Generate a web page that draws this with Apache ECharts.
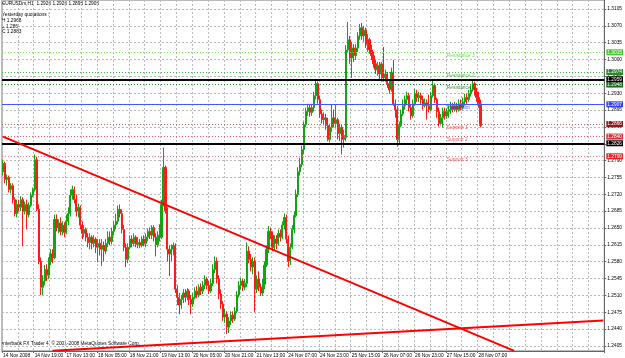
<!DOCTYPE html>
<html><head><meta charset="utf-8">
<script src="https://cdn.jsdelivr.net/npm/echarts@6/dist/echarts.min.js"></script>
<style>html,body{margin:0;padding:0;background:#fff}#c{width:625px;height:358px}</style>
</head><body><div id="c"></div>
<script>
// ---- DATA (EURUSDm, H1) ----
const opens = [
1.2767,1.2784,1.2751,1.2755,1.2730,1.2738,1.2709,1.2680,1.2699,1.2693,
1.2709,1.2685,1.2699,1.2678,1.2697,1.2718,1.2730,1.2792,1.2689,1.2581,
1.2527,1.2540,1.2564,1.2552,1.2581,1.2596,1.2589,1.2668,1.2651,1.2660,
1.2643,1.2656,1.2641,1.2664,1.2680,1.2718,1.2730,1.2709,1.2685,1.2693,
1.2656,1.2639,1.2647,1.2631,1.2620,1.2631,1.2618,1.2627,1.2610,1.2618,
1.2606,1.2614,1.2602,1.2618,1.2631,1.2622,1.2643,1.2656,1.2664,1.2689,
1.2680,1.2647,1.2610,1.2585,1.2610,1.2627,1.2618,1.2631,1.2616,1.2620,
1.2614,1.2627,1.2618,1.2631,1.2643,1.2635,1.2651,1.2631,1.2616,1.2631,
1.2631,1.2699,1.2776,1.2685,1.2606,1.2596,1.2606,1.2614,1.2523,1.2506,
1.2490,1.2502,1.2515,1.2506,1.2519,1.2502,1.2492,1.2506,1.2519,1.2511,
1.2527,1.2519,1.2531,1.2544,1.2531,1.2519,1.2535,1.2564,1.2581,1.2544,
1.2513,1.2492,1.2465,1.2471,1.2444,1.2457,1.2469,1.2461,1.2477,1.2511,
1.2531,1.2540,1.2527,1.2535,1.2602,1.2585,1.2569,1.2581,1.2523,1.2544,
1.2527,1.2515,1.2533,1.2573,1.2606,1.2643,1.2635,1.2610,1.2627,1.2618,
1.2639,
1.2631,1.2656,1.2672,1.2627,1.2581,1.2610,1.2647,1.2676,1.2720,1.2767,
1.2782,1.2813,1.2865,1.2892,1.2900,1.2890,1.2900,1.2925,1.2950,1.2917,
1.2887,1.2875,1.2879,1.2863,1.2834,1.2859,1.2879,1.2867,1.2875,1.2846,
1.2859,1.2834,1.2838,1.3020,1.3041,1.3003,1.3024,1.3008,1.3024,1.3049,
1.3066,1.3049,1.3061,1.3032,1.3041,1.3020,1.3008,1.2991,1.2979,1.2987,
1.2970,1.2991,1.2962,1.2970,1.2950,1.2937,1.2974,1.2908,1.2896,1.2834,
1.2863,1.2887,1.2904,1.2917,1.2925,1.2900,1.2883,1.2908,1.2929,1.2921,
1.2925,1.2917,1.2904,1.2910,1.2904,1.2896,1.2925,1.2946,1.2917,1.2892,
1.2867,1.2879,1.2892,1.2883,1.2892,1.2896,1.2904,1.2896,1.2904,1.2896,
1.2908,1.2900,1.2912,1.2921,1.2917,1.2929,1.2937,1.2950,1.2933,1.2921,1.2908
];
const closes = [
1.2784,1.2751,1.2755,1.2730,1.2738,1.2709,1.2680,1.2699,1.2693,1.2709,
1.2685,1.2699,1.2678,1.2697,1.2718,1.2730,1.2792,1.2689,1.2581,1.2527,
1.2540,1.2564,1.2552,1.2581,1.2596,1.2589,1.2668,1.2651,1.2660,1.2643,
1.2656,1.2641,1.2664,1.2680,1.2718,1.2730,1.2709,1.2685,1.2693,1.2656,
1.2639,1.2647,1.2631,1.2620,1.2631,1.2618,1.2627,1.2610,1.2618,1.2606,
1.2614,1.2602,1.2618,1.2631,1.2622,1.2643,1.2656,1.2664,1.2689,1.2680,
1.2647,1.2610,1.2585,1.2610,1.2627,1.2618,1.2631,1.2616,1.2620,1.2614,
1.2627,1.2618,1.2631,1.2643,1.2635,1.2651,1.2631,1.2616,1.2631,1.2635,
1.2699,1.2776,1.2685,1.2606,1.2596,1.2606,1.2614,1.2523,1.2506,1.2490,
1.2502,1.2515,1.2506,1.2519,1.2502,1.2492,1.2506,1.2519,1.2511,1.2527,
1.2519,1.2531,1.2544,1.2531,1.2519,1.2535,1.2564,1.2581,1.2544,1.2513,
1.2492,1.2465,1.2471,1.2444,1.2457,1.2469,1.2461,1.2477,1.2511,1.2531,
1.2540,1.2527,1.2535,1.2602,1.2585,1.2569,1.2581,1.2523,1.2544,1.2527,
1.2515,1.2533,1.2573,1.2606,1.2643,1.2635,1.2610,1.2627,1.2618,1.2639,
1.2631,
1.2656,1.2672,1.2627,1.2581,1.2610,1.2647,1.2676,1.2720,1.2767,1.2782,
1.2813,1.2865,1.2892,1.2900,1.2890,1.2900,1.2925,1.2950,1.2917,1.2887,
1.2875,1.2879,1.2863,1.2834,1.2859,1.2879,1.2867,1.2875,1.2846,1.2859,
1.2834,1.2842,1.3020,1.3041,1.3003,1.3024,1.3008,1.3024,1.3049,1.3066,
1.3049,1.3061,1.3032,1.3041,1.3020,1.3008,1.2991,1.2979,1.2987,1.2970,
1.2991,1.2962,1.2970,1.2950,1.2937,1.2974,1.2908,1.2896,1.2834,1.2863,
1.2887,1.2904,1.2917,1.2925,1.2900,1.2883,1.2908,1.2929,1.2921,1.2925,
1.2917,1.2904,1.2910,1.2904,1.2896,1.2925,1.2946,1.2917,1.2892,1.2867,
1.2879,1.2892,1.2883,1.2892,1.2896,1.2904,1.2896,1.2904,1.2896,1.2908,
1.2900,1.2912,1.2921,1.2917,1.2929,1.2937,1.2950,1.2933,1.2921,1.2908,1.2863
];
const lows = [
1.2759,1.2743,1.2738,1.2724,1.2722,1.2701,1.2674,1.2672,1.2685,1.2685,
1.2612,1.2678,1.2647,1.2672,1.2693,1.2714,1.2726,1.2685,1.2575,1.2511,
1.2511,1.2531,1.2540,1.2544,1.2573,1.2577,1.2585,1.2643,1.2639,1.2635,
1.2635,1.2631,1.2637,1.2656,1.2674,1.2709,1.2701,1.2674,1.2672,1.2647,
1.2627,1.2631,1.2622,1.2610,1.2606,1.2606,1.2610,1.2598,1.2579,1.2593,
1.2571,1.2581,1.2596,1.2610,1.2614,1.2616,1.2635,1.2647,1.2658,1.2672,
1.2639,1.2602,1.2569,1.2577,1.2606,1.2610,1.2612,1.2610,1.2608,1.2608,
1.2610,1.2612,1.2610,1.2622,1.2627,1.2627,1.2622,1.2591,1.2610,1.2622,
1.2627,1.2695,1.2680,1.2581,1.2550,1.2581,1.2593,1.2515,1.2490,1.2471,
1.2482,1.2494,1.2496,1.2500,1.2490,1.2471,1.2486,1.2502,1.2504,1.2506,
1.2511,1.2513,1.2523,1.2523,1.2513,1.2515,1.2529,1.2556,1.2535,1.2502,
1.2482,1.2457,1.2453,1.2430,1.2432,1.2448,1.2453,1.2457,1.2473,1.2506,
1.2523,1.2519,1.2521,1.2527,1.2577,1.2560,1.2554,1.2475,1.2515,1.2519,
1.2509,1.2509,1.2523,1.2569,1.2598,1.2627,1.2602,1.2602,1.2606,1.2614,
1.2622,
1.2627,1.2647,1.2618,1.2569,1.2573,1.2606,1.2639,1.2672,1.2714,1.2759,
1.2776,1.2803,1.2859,1.2883,1.2881,1.2883,1.2892,1.2917,1.2908,1.2879,
1.2867,1.2863,1.2854,1.2830,1.2828,1.2850,1.2859,1.2859,1.2834,1.2830,
1.2803,1.2817,1.2830,1.3016,1.2991,1.2962,1.2995,1.2999,1.3016,1.3041,
1.3041,1.3037,1.3024,1.3016,1.3012,1.2999,1.2983,1.2970,1.2966,1.2958,
1.2954,1.2954,1.2954,1.2941,1.2929,1.2933,1.2904,1.2879,1.2819,1.2825,
1.2859,1.2883,1.2896,1.2908,1.2892,1.2875,1.2879,1.2904,1.2912,1.2912,
1.2908,1.2896,1.2900,1.2875,1.2890,1.2892,1.2921,1.2910,1.2879,1.2861,
1.2863,1.2859,1.2875,1.2877,1.2879,1.2887,1.2890,1.2892,1.2890,1.2892,
1.2894,1.2896,1.2904,1.2908,1.2912,1.2923,1.2933,1.2925,1.2912,1.2900,1.2859
];
const highs = [
1.2792,1.2788,1.2761,1.2759,1.2743,1.2743,1.2714,1.2709,1.2709,1.2716,
1.2714,1.2705,1.2709,1.2703,1.2724,1.2734,1.2803,1.2798,1.2699,1.2589,
1.2552,1.2573,1.2575,1.2589,1.2606,1.2606,1.2678,1.2678,1.2668,1.2672,
1.2664,1.2662,1.2678,1.2693,1.2730,1.2738,1.2736,1.2720,1.2701,1.2697,
1.2664,1.2656,1.2651,1.2639,1.2639,1.2635,1.2635,1.2631,1.2627,1.2627,
1.2627,1.2622,1.2627,1.2643,1.2643,1.2651,1.2664,1.2680,1.2697,1.2699,
1.2689,1.2656,1.2618,1.2618,1.2635,1.2635,1.2639,1.2635,1.2631,1.2627,
1.2633,1.2635,1.2639,1.2649,1.2651,1.2656,1.2656,1.2639,1.2643,1.2658,
1.2709,1.2817,1.2780,1.2693,1.2614,1.2616,1.2620,1.2618,1.2531,1.2515,
1.2511,1.2523,1.2523,1.2525,1.2523,1.2511,1.2515,1.2527,1.2529,1.2533,
1.2535,1.2540,1.2552,1.2548,1.2540,1.2544,1.2575,1.2591,1.2589,1.2552,
1.2523,1.2498,1.2482,1.2477,1.2465,1.2477,1.2477,1.2486,1.2519,1.2540,
1.2546,1.2544,1.2544,1.2620,1.2612,1.2596,1.2589,1.2589,1.2552,1.2560,
1.2535,1.2544,1.2581,1.2614,1.2654,1.2651,1.2643,1.2635,1.2635,1.2647,
1.2647,
1.2664,1.2680,1.2678,1.2635,1.2618,1.2656,1.2685,1.2730,1.2776,1.2796,
1.2821,1.2871,1.2900,1.2908,1.2906,1.2908,1.2933,1.2958,1.2954,1.2925,
1.2896,1.2890,1.2887,1.2879,1.2867,1.2906,1.2896,1.2906,1.2879,1.2867,
1.2865,1.2854,1.3030,1.3078,1.3049,1.3037,1.3032,1.3032,1.3057,1.3074,
1.3076,1.3070,1.3066,1.3053,1.3045,1.3030,1.3016,1.2999,1.2995,1.2995,
1.2995,1.3026,1.2979,1.2974,1.2958,1.2983,1.2999,1.2917,1.2904,1.2871,
1.2896,1.2917,1.2925,1.2933,1.2931,1.2908,1.2917,1.2939,1.2937,1.2933,
1.2931,1.2925,1.2919,1.2917,1.2927,1.2933,1.2958,1.2950,1.2921,1.2900,
1.2887,1.2900,1.2900,1.2898,1.2904,1.2912,1.2910,1.2912,1.2910,1.2917,
1.2917,1.2921,1.2929,1.2929,1.2937,1.2946,1.2958,1.2954,1.2941,1.2933,1.2917
];
const tickLabels = ['14 Nov 2008','14 Nov 19:00','17 Nov 13:00','18 Nov 05:00','18 Nov 21:00','19 Nov 13:00',
  '20 Nov 05:00','20 Nov 21:00','21 Nov 13:00','24 Nov 07:00','24 Nov 23:00','25 Nov 15:00',
  '26 Nov 07:00','26 Nov 23:00','27 Nov 15:00','28 Nov 07:00'];
const yTicks = [1.2405,1.2440,1.2475,1.2510,1.2545,1.2580,1.2615,1.2650,1.2685,1.2720,1.2755,
  1.2790,1.2825,1.2860,1.2895,1.2930,1.2965,1.3000,1.3035,1.3070,1.3105];
const levelNames = ['Resistance 3','Resistance 2','Resistance 1','Pivot Point','Support 1','Support 2','Support 3'];
const levelValues = [1.3015,1.2974,1.2948,1.2907,1.2866,1.2840,1.2799];
const blackLevels = [1.2959,1.2826];
const trendDown = [[0,1.2840],[258,1.2395]];
const trendUp = [[25,1.2395],[303,1.2458]];
const infoLines = ['EURUSDm,H1  1.2926 1.2926 1.2895 1.2905','Yesterday quotations :','H 1.2968','L 1.286','C 1.2883'];
const footer = 'Interbank FX Trader 4, \u00A9 2001-2008 MetaQuotes Software Corp.';

// ---- categories: hourly bars (Fri after 21:00 and weekends closed) ----
const months = ['Jan','Feb','Mar','Apr','May','Jun','Jul','Aug','Sep','Oct','Nov','Dec'];
const totalSlots = 304;
const categories = [];
let t = Date.UTC(2008,10,14,3);
while (categories.length < totalSlots) {
  const d = new Date(t); const wd = d.getUTCDay(), h = d.getUTCHours();
  const closed = wd === 6 || wd === 0 || (wd === 5 && h >= 22);
  if (!closed) categories.push(d.getUTCDate()+' '+months[d.getUTCMonth()]+' '+String(h).padStart(2,'0')+':00');
  t += 3600000;
}

// ---- styles ----
const FONT = "'Liberation Sans', Arial, sans-serif";
const FS = 4.8;
const levelLine = ['#66ee44','#33bb33','#228822','#4455ff','#c06262','#ee5566','#ff7a85'];
const levelBox = ['#44cc33','#2a8a2a','#1a6b1a','#3344ff','#8b1a1a','#e03040','#ee2222'];
const levelText = ['#44dd22','#22aa22','#147014','#2233ff','#cc3333','#dd3344','#e03a48'];
const GREEN = '#12a512', RED = '#ff1a1a';

const markData = [];
levelValues.forEach((v,i)=>{
  markData.push({yAxis: v,
    lineStyle:{color:levelLine[i], width:1, type: i===3 ? 'solid' : [1,2]},
    label:{show:true, position:'end', distance:2, formatter: v.toFixed(4), color:'#fff',
      backgroundColor:levelBox[i], fontSize:FS, fontFamily:FONT, padding:[1,1,0,1]}});
});
blackLevels.forEach(v=>{
  markData.push({yAxis: v, lineStyle:{color:'#000', width:2, type:'solid'},
    label:{show:true, position:'end', distance:2, formatter: v.toFixed(4), color:'#fff',
      backgroundColor:'#000', fontSize:FS, fontFamily:FONT, padding:[1,1,0,1]}});
});
[trendDown, trendUp].forEach(tl=>{
  markData.push([{coord: tl[0], lineStyle:{color:'#ff0000', width:2, type:'solid'}, label:{show:false}},
                 {coord: tl[1]}]);
});

const chart = echarts.init(document.getElementById('c'), null, {renderer:'canvas'});
chart.setOption({
  animation:false,
  backgroundColor:'#fff',
  grid:{left:1, right:20, top:0, bottom:6, show:true, borderColor:'#777', borderWidth:1},
  xAxis:{type:'category', data:categories, boundaryGap:true,
    axisLine:{show:true, lineStyle:{color:'#666', width:1}},
    axisTick:{show:true, length:2, interval:(i)=> i%16===0 && i<16*tickLabels.length, lineStyle:{color:'#666'}},
    axisLabel:{interval:(i)=> i%16===0 && i<16*tickLabels.length, formatter:(v,i)=> tickLabels[Math.round(i/16)] || '',
      fontSize:FS, fontFamily:FONT, color:'#000', margin:2, align:'left'},
    splitLine:{show:true, interval:7, lineStyle:{color:'#b8b8c0', width:1, type:[2,2]}}},
  yAxis:{type:'value', position:'right', min:1.23946, max:1.31236, scale:true,
    axisLine:{show:true, lineStyle:{color:'#666', width:1}},
    axisTick:{show:true, length:2, customValues:yTicks, lineStyle:{color:'#666'}},
    axisLabel:{customValues:yTicks, formatter:v=>v.toFixed(4), fontSize:FS, fontFamily:FONT, color:'#000', margin:3},
    splitLine:{show:true, lineStyle:{color:'#b8b8c0', width:1, type:[2,2]}}},
  series:[
    {type:'candlestick', barWidth:1.6,
     data: opens.map((o,i)=>[o, closes[i], lows[i], highs[i]]),
     itemStyle:{color:GREEN, color0:RED, borderColor:GREEN, borderColor0:RED, borderWidth:1},
     markLine:{silent:true, symbol:['none','none'], animation:false, precision:4, data:markData}},
    {type:'scatter', symbolSize:0.1, itemStyle:{color:'rgba(0,0,0,0)'}, silent:true,
     data: levelValues.map((v,i)=>({value:[224, v], name:levelNames[i], label:{color:levelText[i]}})),
     label:{show:true, position:'right', distance:0, offset:[0,3.5], formatter:p=>p.name, fontSize:FS, fontFamily:FONT}}
  ],
  graphic:[
    ...infoLines.map((s,i)=>({type:'text', left:2, top:[1,12,18,24,29.5][i], silent:true,
       style:{text:s, fontSize:FS, fontFamily:FONT, fill:'#000'}})),
    {type:'text', left:2, top:341, silent:true, style:{text:footer, fontSize:FS, fontFamily:FONT, fill:'#000'}}
  ]
});
</script></body></html>
